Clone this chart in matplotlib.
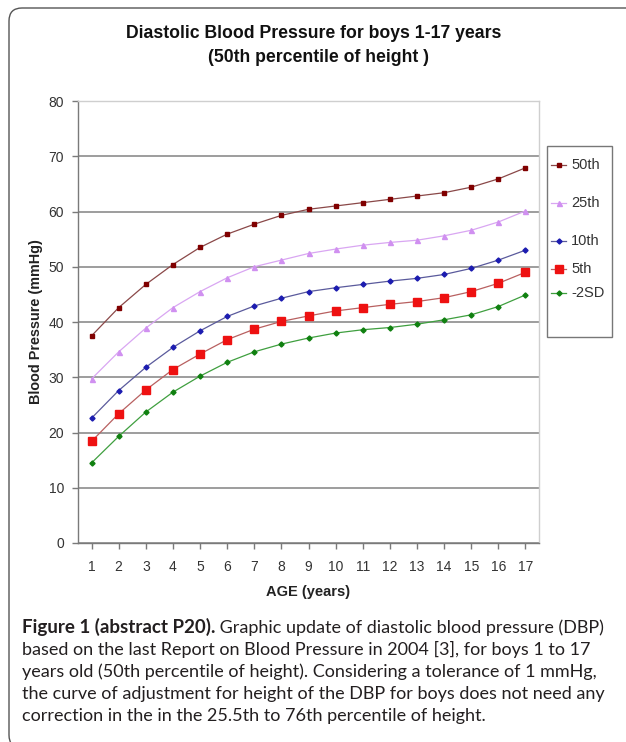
#diastolic blood pressure curves for boys, redrawn from the figure

import matplotlib
matplotlib.use("Agg")
import matplotlib.pyplot as plt
from matplotlib.patches import FancyBboxPatch, Rectangle
from matplotlib.lines import Line2D

ages = list(range(1, 18))
series_names = ["50th", "25th", "10th", "5th", "-2SD"]
p50 = [37.5, 42.6, 46.8, 50.4, 53.5, 55.9, 57.7, 59.3, 60.4, 61.0, 61.6, 62.2, 62.8, 63.4, 64.4, 65.9, 67.9]
p25 = [29.7, 34.6, 38.9, 42.6, 45.5, 48.0, 50.0, 51.2, 52.4, 53.2, 53.9, 54.4, 54.8, 55.6, 56.6, 58.1, 60.1]
p10 = [22.6, 27.6, 31.8, 35.4, 38.4, 41.0, 42.9, 44.3, 45.5, 46.2, 46.8, 47.4, 47.9, 48.6, 49.7, 51.2, 53.0]
p5 = [18.4, 23.4, 27.7, 31.4, 34.2, 36.8, 38.7, 40.1, 41.1, 42.0, 42.6, 43.2, 43.7, 44.4, 45.5, 47.0, 49.0]
sd2 = [14.5, 19.3, 23.7, 27.3, 30.2, 32.7, 34.6, 36.0, 37.1, 38.0, 38.6, 39.0, 39.6, 40.4, 41.3, 42.8, 44.9]
yticks = list(range(0, 90, 10))

caption_bold = "Figure 1 (abstract P20)."
caption_lines = [
    " Graphic update of diastolic blood pressure (DBP)",
    "based on the last Report on Blood Pressure in 2004 [3], for boys 1 to 17",
    "years old (50th percentile of height). Considering a tolerance of 1 mmHg,",
    "the curve of adjustment for height of the DBP for boys does not need any",
    "correction in the in the 25.5th to 76th percentile of height.",
]

# line colour, marker, marker colour, marker size
styles = [
    ("#8a4848", "s", "#800000", 3.2),
    ("#d9a6f2", "^", "#d090f0", 3.6),
    ("#5a5a9c", "D", "#1c1cb0", 2.6),
    ("#b86060", "s", "#ee1111", 6.0),
    ("#3f9f3f", "D", "#108010", 2.6),
]
values = [p50, p25, p10, p5, sd2]

W, H = 626, 742
fig = plt.figure(figsize=(W / 100, H / 100), dpi=100)
font = "Liberation Sans"

# outer rounded frame (display pixels)
frame = FancyBboxPatch((9, -6), 650, 740, boxstyle="round,pad=0,rounding_size=13",
                       transform=None, fill=False, ec="#555555", lw=1.0)
fig.patches.append(frame)

ax = fig.add_axes([78 / W, 1 - 543 / H, (539 - 78) / W, (543 - 101) / H])
for name, vals, (lc, mk, mc, ms) in zip(series_names, values, styles):
    ax.plot(ages, vals, color=lc, lw=0.9, marker=mk, ms=ms, mfc=mc, mec=mc, label=name, zorder=3)

ax.set_xlim(0.5, 17.5)
ax.set_ylim(0, 80)
ax.set_yticks(yticks)
ax.set_xticks(ages)
ax.yaxis.grid(True, color="#8c8c8c", lw=1.2)
ax.set_axisbelow(True)
for s in ["top", "right"]:
    ax.spines[s].set_color("#cfcfcf")
    ax.spines[s].set_linewidth(1.0)
for s in ["left", "bottom"]:
    ax.spines[s].set_color("#7a7a7a")
    ax.spines[s].set_linewidth(1.0)
ax.tick_params(axis="both", colors="#7a7a7a", labelcolor="#333333", labelsize=10, length=4, width=1)
ax.tick_params(axis="x", pad=8)
ax.tick_params(axis="y", pad=6)
for lab in ax.get_xticklabels() + ax.get_yticklabels():
    lab.set_family(font)

ax.set_xlabel("AGE (years)", family=font, fontweight="bold", fontsize=10.5, color="#222222", labelpad=8)
ax.set_ylabel("Blood Pressure (mmHg)", family=font, fontweight="bold", fontsize=10.4, color="#222222", labelpad=4)

fig.text(314 / W, 1 - 34 / H, "Diastolic Blood Pressure for boys 1-17 years", ha="center", va="center",
         family=font, fontweight="bold", fontsize=12.7, color="#111111")
fig.text(318 / W, 1 - 58 / H, "(50th percentile of height )", ha="center", va="center",
         family=font, fontweight="bold", fontsize=12.7, color="#111111")

# legend box drawn by hand (Excel spacing is uneven)
fig.patches.append(Rectangle((547, H - 337), 65, 191, transform=None, fill=False, ec="#777777", lw=1.0))
leg_y = [165, 203, 241, 269, 293]
for name, yy, (lc, mk, mc, ms) in zip(series_names, leg_y, styles):
    fig.add_artist(Line2D([551 / W, 566 / W], [1 - yy / H] * 2, color=lc, lw=0.9, transform=fig.transFigure))
    fig.add_artist(Line2D([558.5 / W], [1 - yy / H], marker=mk, ms=ms, mfc=mc, mec=mc, transform=fig.transFigure))
    fig.text(571 / W, 1 - yy / H, name, va="center", ha="left", family=font, fontsize=10.5, color="#333333")

# caption: size chosen so the second line spans the measured width
cap_font = "Lato"
renderer = fig.canvas.get_renderer()
probe = fig.text(0, 0, caption_lines[1], family=cap_font, fontsize=10)
w10 = probe.get_window_extent(renderer).width
probe.remove()
cap_size = 10 * (593 - 22) / w10
baselines = [633, 655, 677, 699, 721]
tb = fig.text(22 / W, 1 - baselines[0] / H, caption_bold, family=cap_font, fontweight="bold",
              fontsize=cap_size * 1.04, color="#231f20", va="baseline")
bw = tb.get_window_extent(renderer).width
fig.text((22 + bw) / W, 1 - baselines[0] / H, caption_lines[0], family=cap_font, fontsize=cap_size,
         color="#231f20", va="baseline")
for line, yy in zip(caption_lines[1:], baselines[1:]):
    fig.text(22 / W, 1 - yy / H, line, family=cap_font, fontsize=cap_size, color="#231f20", va="baseline")

fig.savefig("out.png", dpi=100)
